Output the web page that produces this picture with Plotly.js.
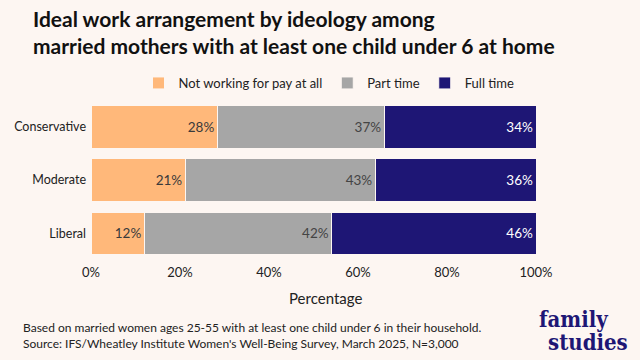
<!DOCTYPE html>
<html><head><meta charset="utf-8">
<script src="https://cdn.plot.ly/plotly-3.0.1.min.js"></script>
<style>html,body{margin:0;padding:0;background:#fdf6f2;}#chart{width:640px;height:360px;}</style>
</head><body><div id="chart"></div>
<script>
const categories = ["Liberal", "Moderate", "Conservative"];
const notWorking = [12.0, 21.2, 28.4];
const partTime = [42.1, 42.7, 37.5];
const fullTime = [45.9, 36.1, 34.1];
const notWorkingLabels = ["12%", "21%", "28%"];
const partTimeLabels = ["42%", "43%", "37%"];
const fullTimeLabels = ["46%", "36%", "34%"];
const seriesNames = ["Not working for pay at all", "Part time", "Full time"];
const colors = ["#ffb87a", "#a6a6a6", "#1e1675"];
const textColors = ["#3a3a3a", "#444444", "#ffffff"];
const tickVals = [0, 20, 40, 60, 80, 100];
const tickText = ["0%", "20%", "40%", "60%", "80%", "100%"];

const series = [notWorking, partTime, fullTime];
const labels = [notWorkingLabels, partTimeLabels, fullTimeLabels];
const traces = series.map((vals, i) => ({
  type: "bar", orientation: "h", name: seriesNames[i],
  y: categories, x: vals,
  text: labels[i], textposition: "inside", insidetextanchor: "end",
  textfont: {family: "Lato", size: 13.5, color: textColors[i]},
  marker: {color: colors[i], line: {color: "#fdf6f2", width: 1}},
  hoverinfo: "skip"
}));

const H = 160; // plot height in px (360 - 100 - 100)
const W = 445; // plot width in px
const px = x => (x - 91) / W;
const py = y => (260 - y) / H;

const layout = {
  width: 640, height: 360,
  paper_bgcolor: "#fdf6f2", plot_bgcolor: "#fdf6f2",
  font: {family: "Lato", color: "#222"},
  barmode: "stack", bargap: 0.2,
  margin: {l: 91, r: 104, t: 100, b: 100},
  showlegend: true,
  legend: {orientation: "h", x: px(329), xanchor: "center", y: py(83), yanchor: "middle",
    font: {family: "Lato", size: 13, color: "#222"}, traceorder: "normal", itemwidth: 30, bgcolor: "rgba(0,0,0,0)"},
  xaxis: {range: [0, 100], tickvals: tickVals, ticktext: tickText, showgrid: false, zeroline: false,
    showline: false, ticks: "", ticklabelstandoff: 3, tickfont: {family: "Lato", size: 13, color: "#222"}, fixedrange: true},
  yaxis: {showgrid: false, zeroline: false, ticks: "", ticklabelstandoff: 4,
    tickfont: {family: "Lato", size: 12.5, color: "#222"}, fixedrange: true},
  annotations: [
    {text: "<b>Ideal work arrangement by ideology among<br>married mothers with at least one child under 6 at home</b>",
     xref: "paper", yref: "paper", x: px(31), y: py(32), xanchor: "left", yanchor: "middle", align: "left",
     showarrow: false, font: {family: "Lato", size: 21, color: "#111"}},
    {text: "Percentage", xref: "paper", yref: "paper", x: px(325), y: py(298), xanchor: "center", yanchor: "middle",
     showarrow: false, font: {family: "Lato", size: 15, color: "#222"}},
    {text: "Based on married women ages 25-55 with at least one child under 6 in their household.<br>Source: IFS/Wheatley Institute Women's Well-Being Survey, March 2025, N=3,000",
     xref: "paper", yref: "paper", x: px(21), y: py(335), xanchor: "left", yanchor: "middle", align: "left",
     showarrow: false, font: {family: "Lato", size: 12, color: "#222"}},
    {text: "<b>family</b>", xref: "paper", yref: "paper", x: px(573), y: py(319), xanchor: "center", yanchor: "middle",
     showarrow: false, borderpad: 0, font: {family: "DejaVu Serif Condensed", size: 22, color: "#1e1675"}},
    {text: "<b>studies</b>", xref: "paper", yref: "paper", x: px(588), y: py(342), xanchor: "center", yanchor: "middle",
     showarrow: false, borderpad: 0, font: {family: "DejaVu Serif Condensed", size: 22, color: "#1e1675"}}
  ]
};
Plotly.newPlot("chart", traces, layout, {displayModeBar: false, staticPlot: true});
</script></body></html>
